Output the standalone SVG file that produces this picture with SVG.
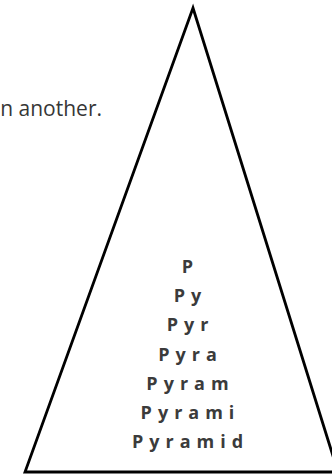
<svg xmlns="http://www.w3.org/2000/svg" width="332" height="475" viewBox="0 0 332 475">
<style>
.cap{font-family:"Open Sans","Liberation Sans",sans-serif;font-size:21px;fill:#363636}
.w{font-family:"Open Sans","Liberation Sans",sans-serif;font-size:18px;font-weight:bold;fill:#3b3b3b;letter-spacing:6px;text-anchor:middle}
</style>
<rect width="332" height="475" fill="#fff"/>
<text class="cap" x="102" y="116" text-anchor="end">n another.</text>
<g id="pyramid">
<polygon points="193,8 25,472 338,472" fill="none" stroke="#000" stroke-width="2.8" stroke-linejoin="miter"/>
</g>
<g id="words">
<text class="w" x="190.5" y="273">P</text>
<text class="w" x="190.5" y="302">Py</text>
<text class="w" x="190.5" y="331">Pyr</text>
<text class="w" x="190.5" y="361">Pyra</text>
<text class="w" x="190.5" y="390">Pyram</text>
<text class="w" x="190.5" y="419">Pyrami</text>
<text class="w" x="190.5" y="448">Pyramid</text>
</g>
</svg>
